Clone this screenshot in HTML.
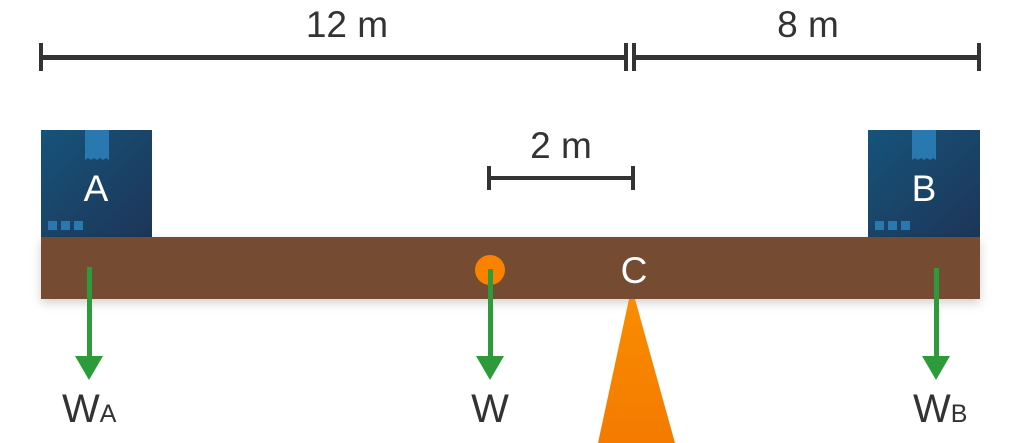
<!DOCTYPE html>
<html><head><meta charset="utf-8"><style>
html,body{margin:0;padding:0;background:#fff;}
svg{display:block;}
text{font-family:"Liberation Sans",sans-serif;}
</style></head><body>
<svg width="1022" height="443" viewBox="0 0 1022 443" xmlns="http://www.w3.org/2000/svg">
<defs>
<linearGradient id="box" x1="0" y1="0" x2="1" y2="1">
<stop offset="0" stop-color="#16537a"/><stop offset="1" stop-color="#1d3557"/>
</linearGradient>
<linearGradient id="tri" x1="0" y1="0" x2="0" y2="1">
<stop offset="0" stop-color="#f98c00"/><stop offset="1" stop-color="#f47a00"/>
</linearGradient>
<filter id="sh" x="-5%" y="-20%" width="110%" height="160%">
<feDropShadow dx="0" dy="4" stdDeviation="5" flood-color="#000" flood-opacity="0.18"/>
</filter>
</defs>
<!-- dimension lines -->
<g fill="#333">
<rect x="41" y="55" width="585" height="5"/>
<rect x="634" y="55" width="346" height="5"/>
<rect x="39" y="43" width="4" height="28"/>
<rect x="624" y="43" width="4" height="28"/>
<rect x="632" y="43" width="4" height="28"/>
<rect x="977" y="43" width="4" height="28"/>
<rect x="489" y="176" width="144" height="4"/>
<rect x="487" y="166" width="4" height="24"/>
<rect x="631" y="166" width="4" height="24"/>
</g>
<g fill="#333" font-size="37" text-anchor="middle">
<text x="347" y="37">12 m</text>
<text x="808" y="37">8 m</text>
<text x="561" y="158">2 m</text>
</g>
<!-- boxes -->
<g>
<rect x="41" y="130" width="111" height="108" fill="url(#box)"/>
<path d="M85 130h24v30l-3 -2l-3 2l-3-2l-3 2l-3-2l-3 2l-3-2l-3 2z" fill="#2a78b0"/>
<rect x="48" y="221" width="9" height="9" fill="#2a78b0"/>
<rect x="61" y="221" width="9" height="9" fill="#2a78b0"/>
<rect x="74" y="221" width="9" height="9" fill="#2a78b0"/>
<text x="96" y="201" font-size="37" fill="#fff" text-anchor="middle">A</text>
<rect x="868" y="130" width="112" height="108" fill="url(#box)"/>
<path d="M912 130h24v30l-3 -2l-3 2l-3-2l-3 2l-3-2l-3 2l-3-2l-3 2z" fill="#2a78b0"/>
<rect x="875" y="221" width="9" height="9" fill="#2a78b0"/>
<rect x="888" y="221" width="9" height="9" fill="#2a78b0"/>
<rect x="901" y="221" width="9" height="9" fill="#2a78b0"/>
<text x="924" y="201" font-size="37" fill="#fff" text-anchor="middle">B</text>
</g>
<!-- beam -->
<rect x="41" y="237" width="939" height="62" fill="#744c31" filter="url(#sh)"/>
<!-- fulcrum -->
<polygon points="629,299 635,299 675,443 598,443" fill="url(#tri)"/>
<text x="634" y="283" font-size="37" fill="#fff" text-anchor="middle">C</text>
<circle cx="490" cy="270" r="15" fill="#f98200"/>
<!-- arrows -->
<g fill="#2e9b3a">
<rect x="87" y="267" width="5" height="92"/>
<polygon points="75,356 103,356 89,380"/>
<rect x="488" y="269" width="5" height="90"/>
<polygon points="476,356 504,356 490,380"/>
<rect x="934" y="268" width="5" height="91"/>
<polygon points="922,356 950,356 936,380"/>
</g>
<g fill="#333">
<text x="62" y="422" font-size="40">W<tspan font-size="25">A</tspan></text>
<text x="490" y="422" font-size="40" text-anchor="middle">W</text>
<text x="913" y="422" font-size="40">W<tspan font-size="25">B</tspan></text>
</g>
</svg>
</body></html>
